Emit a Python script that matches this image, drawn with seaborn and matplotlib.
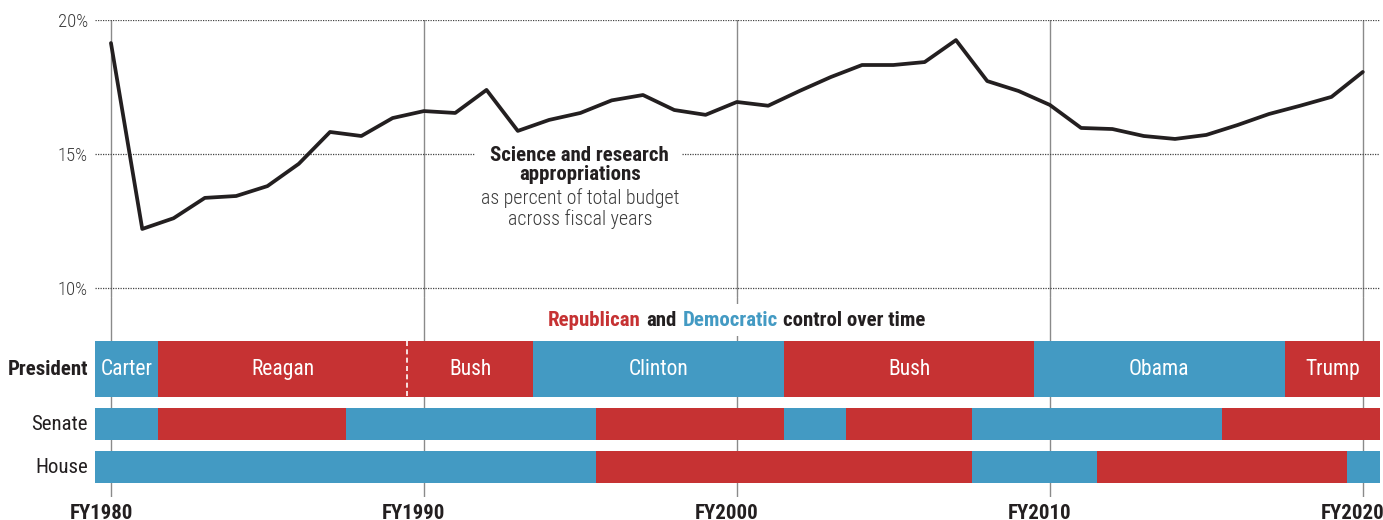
import matplotlib
matplotlib.use("Agg")
import matplotlib.pyplot as plt
import matplotlib.transforms as mtransforms
import seaborn as sns
from matplotlib.offsetbox import TextArea, HPacker, AnnotationBbox

# --- data -------------------------------------------------------------
years = list(range(1980, 2021))
share = [19.14, 12.20, 12.60, 13.36, 13.43, 13.80, 14.63, 15.82, 15.67, 16.34,
         16.60, 16.53, 17.39, 15.86, 16.27, 16.53, 17.00, 17.20, 16.64, 16.46,
         16.94, 16.80, 17.35, 17.87, 18.32, 18.32, 18.43, 19.25, 17.72, 17.35,
         16.83, 15.97, 15.93, 15.67, 15.56, 15.71, 16.08, 16.49, 16.80, 17.13,
         18.06]

pres_names = ["Carter", "Reagan", "Bush", "Clinton", "Bush", "Obama", "Trump"]
pres_party = ["D", "R", "R", "D", "R", "D", "R"]
pres_start = [1979.5, 1981.5, 1989.5, 1993.5, 2001.5, 2009.5, 2017.5]
pres_end = [1981.5, 1989.5, 1993.5, 2001.5, 2009.5, 2017.5, 2020.55]

senate_party = ["D", "R", "D", "R", "D", "R", "D", "R"]
senate_start = [1979.5, 1981.5, 1987.5, 1995.5, 2001.5, 2003.5, 2007.5, 2015.5]
senate_end = [1981.5, 1987.5, 1995.5, 2001.5, 2003.5, 2007.5, 2015.5, 2020.55]

house_party = ["D", "R", "D", "R", "D"]
house_start = [1979.5, 1995.5, 2007.5, 2011.5, 2019.5]
house_end = [1995.5, 2007.5, 2011.5, 2019.5, 2020.55]

decades = [1980, 1990, 2000, 2010, 2020]
decade_labels = ["FY1980", "FY1990", "FY2000", "FY2010", "FY2020"]
pct_ticks = [10, 15, 20]
pct_labels = ["10%", "15%", "20%"]

RED = "#C63233"
BLUE = "#439AC3"
INK = "#231F20"
SOFT = "#3A3A3A"
GRID = "#8A8A8A"
party_color = {"R": RED, "D": BLUE}

# --- style ------------------------------------------------------------
sns.set_style("white")
plt.rcParams["font.family"] = ["Roboto Condensed", "DejaVu Sans"]

W, H = 1383, 520
fig = plt.figure(figsize=(W / 100, H / 100), dpi=100)

def px_axes(left, top, right, bottom):
    return fig.add_axes([left / W, 1 - bottom / H, (right - left) / W, (bottom - top) / H])

XMIN, XMAX = 1979.49, 2020.55

# --- top panel: line chart ---------------------------------------------
ax = px_axes(95, 20, 1380, 297)
ax.set_xlim(XMIN, XMAX)
ax.set_ylim(9.66, 20)
for s in ax.spines.values():
    s.set_visible(False)

for d in decades:
    ax.axvline(d, color=GRID, lw=1.0, zorder=1)
dots = (0, (1, 1))
ax.hlines([10, 20], XMIN, XMAX, colors="#444444", lw=0.9, linestyles=dots, zorder=1)
ax.hlines(15, XMIN, 1991.6, colors="#444444", lw=0.9, linestyles=dots, zorder=1)
ax.hlines(15, 1998.25, XMAX, colors="#444444", lw=0.9, linestyles=dots, zorder=1)

sns.lineplot(x=years, y=share, ax=ax, color=INK, linewidth=2.7, zorder=3)

ax.set_xticks([])
ax.set_yticks(pct_ticks)
ax.set_yticklabels(pct_labels, fontsize=13.5, color=SOFT, fontweight="light")
ax.tick_params(axis="y", length=0, pad=5)
ax.set_xlabel("")
ax.set_ylabel("")

ax.text(1994.98, 14.59, "Science and research\nappropriations", ha="center", va="center",
        fontsize=15, fontweight="bold", color=INK, linespacing=1.05, zorder=4)
ax.text(1994.98, 12.95, "as percent of total budget\nacross fiscal years", ha="center",
        va="center", fontsize=14.3, fontweight="light", color=SOFT, linespacing=1.08, zorder=4)

# --- bottom panel: party control ---------------------------------------
bx = px_axes(95, 297, 1380, 497)
bx.set_xlim(XMIN, XMAX)
bx.set_ylim(497, 297)
bx.patch.set_visible(False)
for s in bx.spines.values():
    s.set_visible(False)

for d in decades:
    bx.axvline(d, color=GRID, lw=1.0, zorder=1)

rows = [
    ("President", pres_start, pres_end, pres_party, 369, 56),
    ("Senate", senate_start, senate_end, senate_party, 424, 32),
    ("House", house_start, house_end, house_party, 467, 32),
]
for name, starts, ends, parties, yc, h in rows:
    widths = [e - s for s, e in zip(starts, ends)]
    bx.barh([yc] * len(starts), widths, left=starts, height=h,
            color=[party_color[p] for p in parties], edgecolor="none", zorder=2)
    bx.annotate(name, xy=(0, yc), xycoords=("axes fraction", "data"),
                xytext=(-5, 0), textcoords="offset points", ha="right", va="center",
                fontsize=15, color=INK,
                fontweight="bold" if name == "President" else "normal")

for n, s, e in zip(pres_names, pres_start, pres_end):
    bx.text((s + e) / 2, 369, n, ha="center", va="center", fontsize=15.5,
            color="white", zorder=4)

# dashed divider between the two Republican presidencies
bx.plot([1989.45, 1989.45], [341, 397], color="white", lw=1.2,
        linestyle=(0, (3, 2)), zorder=3)

bx.set_xticks(decades)
bx.set_xticklabels(decade_labels, fontsize=15, fontweight="bold", color=INK)
bx.tick_params(axis="x", length=0, pad=5)
bx.set_yticks([])
shift = mtransforms.ScaledTranslation(-10 / 100, 0, fig.dpi_scale_trans)
for lab in bx.get_xticklabels():
    lab.set_transform(lab.get_transform() + shift)

# multi-coloured heading with white backing
parts = [TextArea(t, textprops=dict(color=c, fontsize=15, fontweight="bold"))
         for t, c in [("Republican", RED), ("and", INK), ("Democratic", BLUE),
                      ("control over time", INK)]]
pack = HPacker(children=parts, align="baseline", pad=0, sep=4)
ab = AnnotationBbox(pack, (2000.0, 320), xycoords="data", frameon=True,
                    box_alignment=(0.5, 0.5), pad=0.5, annotation_clip=False,
                    bboxprops=dict(facecolor="white", edgecolor="none"), zorder=5)
bx.add_artist(ab)

fig.savefig("out.png", dpi=100, facecolor="white")
